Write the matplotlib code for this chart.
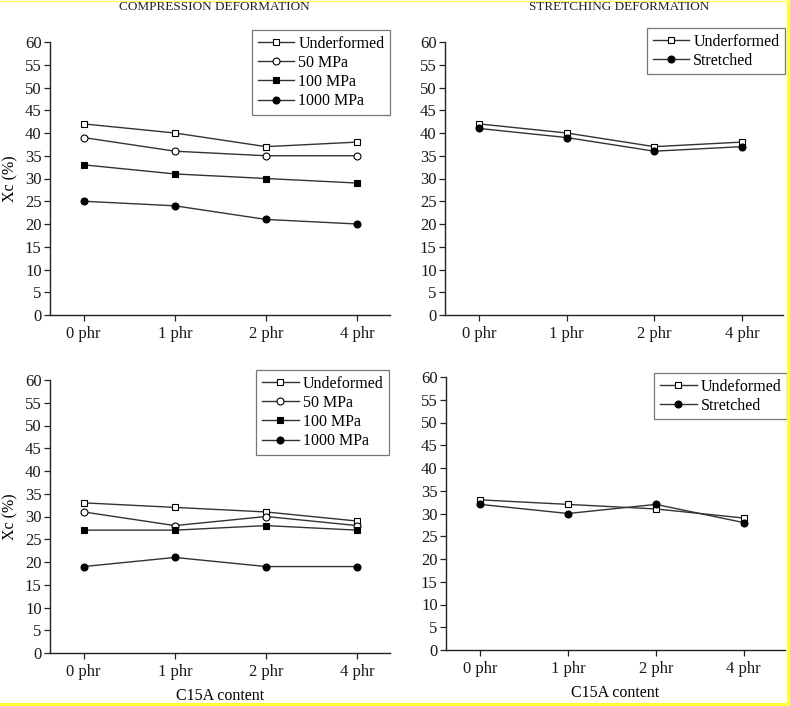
import numpy as np
import matplotlib
matplotlib.use('Agg')
import matplotlib.pyplot as plt
from matplotlib.lines import Line2D

plt.rcParams['font.family'] = ['Liberation Serif', 'DejaVu Serif']

# data
categories = ['0 phr', '1 phr', '2 phr', '4 phr']

comp_top_labels = ['Underformed', '50 MPa', '100 MPa', '1000 MPa']
comp_top = [[42, 40, 37, 38],
            [39, 36, 35, 35],
            [33, 31, 30, 29],
            [25, 24, 21, 20]]

str_top_labels = ['Underformed', 'Stretched']
str_top = [[42, 40, 37, 38],
           [41, 39, 36, 37]]

comp_bot_labels = ['Undeformed', '50 MPa', '100 MPa', '1000 MPa']
comp_bot = [[33, 32, 31, 29],
            [31, 28, 30, 28],
            [27, 27, 28, 27],
            [19, 21, 19, 19]]

str_bot_labels = ['Undeformed', 'Stretched']
str_bot = [[33, 32, 31, 29],
           [32, 30, 32, 28]]

yticks = np.arange(0, 61, 5)

W, H = 790, 706
fig = plt.figure(figsize=(W / 100, H / 100), dpi=100)

comp_styles = [dict(marker='s', mfc='white', ms=4.5),
               dict(marker='o', mfc='white', ms=5),
               dict(marker='s', mfc='black', ms=4.5),
               dict(marker='o', mfc='black', ms=5)]
str_styles = [comp_styles[0], comp_styles[3]]


def px_axes(l, r, t, b):
    return fig.add_axes([l / W, 1 - b / H, (r - l) / W, (b - t) / H])


def panel(ax, series, labels, styles, xlim, leg_box, ylabel=False, xlabel=False):
    x = np.arange(len(categories))
    for vals, lab, st in zip(series, labels, styles):
        ax.plot(x, vals, color='#333333', lw=1.0, mec='black', mew=0.8,
                label=lab, **st)
    ax.set_xlim(*xlim)
    ax.set_ylim(0, 60)
    ax.set_yticks(yticks)
    ax.set_xticks(x)
    ax.set_xticklabels(categories)
    ax.spines['top'].set_visible(False)
    ax.spines['right'].set_visible(False)
    for s in ['left', 'bottom']:
        ax.spines[s].set_linewidth(1.0)
        ax.spines[s].set_color('#222222')
    ax.tick_params(axis='both', labelsize=12, length=4, width=0.9,
                   colors='#222222', labelcolor='#1a1a1a')
    ax.tick_params(axis='x', pad=4)
    ax.tick_params(axis='y', pad=2)
    # legend box in figure pixel coords
    l, t = leg_box
    leg = ax.legend(loc='upper right', bbox_to_anchor=(l / W, 1 - t / H),
                    bbox_transform=fig.transFigure, fontsize=11.5,
                    frameon=True, fancybox=False, borderpad=0.35,
                    labelspacing=0.2, handlelength=2.3, handletextpad=0.25,
                    borderaxespad=0)
    leg.get_frame().set_edgecolor('#555555')
    leg.get_frame().set_linewidth(0.9)
    if ylabel:
        ax.set_ylabel('Xc (%)', fontsize=11.5, labelpad=5)
    if xlabel:
        ax.set_xlabel('C15A content', fontsize=11.5, labelpad=6)


ax1 = px_axes(50, 390, 42, 315)
panel(ax1, comp_top, comp_top_labels, comp_styles, (-0.37, 3.36), (390, 30), ylabel=True)

ax2 = px_axes(445, 783, 42, 315)
panel(ax2, str_top, str_top_labels, str_styles, (-0.39, 3.47), (785, 28))

ax3 = px_axes(50, 390, 380, 653)
panel(ax3, comp_bot, comp_bot_labels, comp_styles, (-0.37, 3.36), (389, 370),
      ylabel=True, xlabel=True)

ax4 = px_axes(446, 785, 377, 650)
panel(ax4, str_bot, str_bot_labels, str_styles, (-0.39, 3.47), (787, 373), xlabel=True)

fig.text(214 / W, 1 - 7 / H, 'COMPRESSION DEFORMATION', ha='center', va='center',
         fontsize=9.5, color='#222222')
fig.text(619 / W, 1 - 7 / H, 'STRETCHING DEFORMATION', ha='center', va='center',
         fontsize=9.5, color='#222222')

# yellow frame edges of the scanned figure
fig.add_artist(Line2D([0, 1], [1 - 704.5 / H] * 2, transform=fig.transFigure,
                      color='#ffff33', lw=3))
fig.add_artist(Line2D([1 - 1.5 / W] * 2, [0, 1], transform=fig.transFigure,
                      color='#ffff33', lw=3))
fig.add_artist(Line2D([0, 1], [1 - 0.5 / H] * 2, transform=fig.transFigure,
                      color='#ffff66', lw=1))

fig.savefig('out.png', dpi=100)
